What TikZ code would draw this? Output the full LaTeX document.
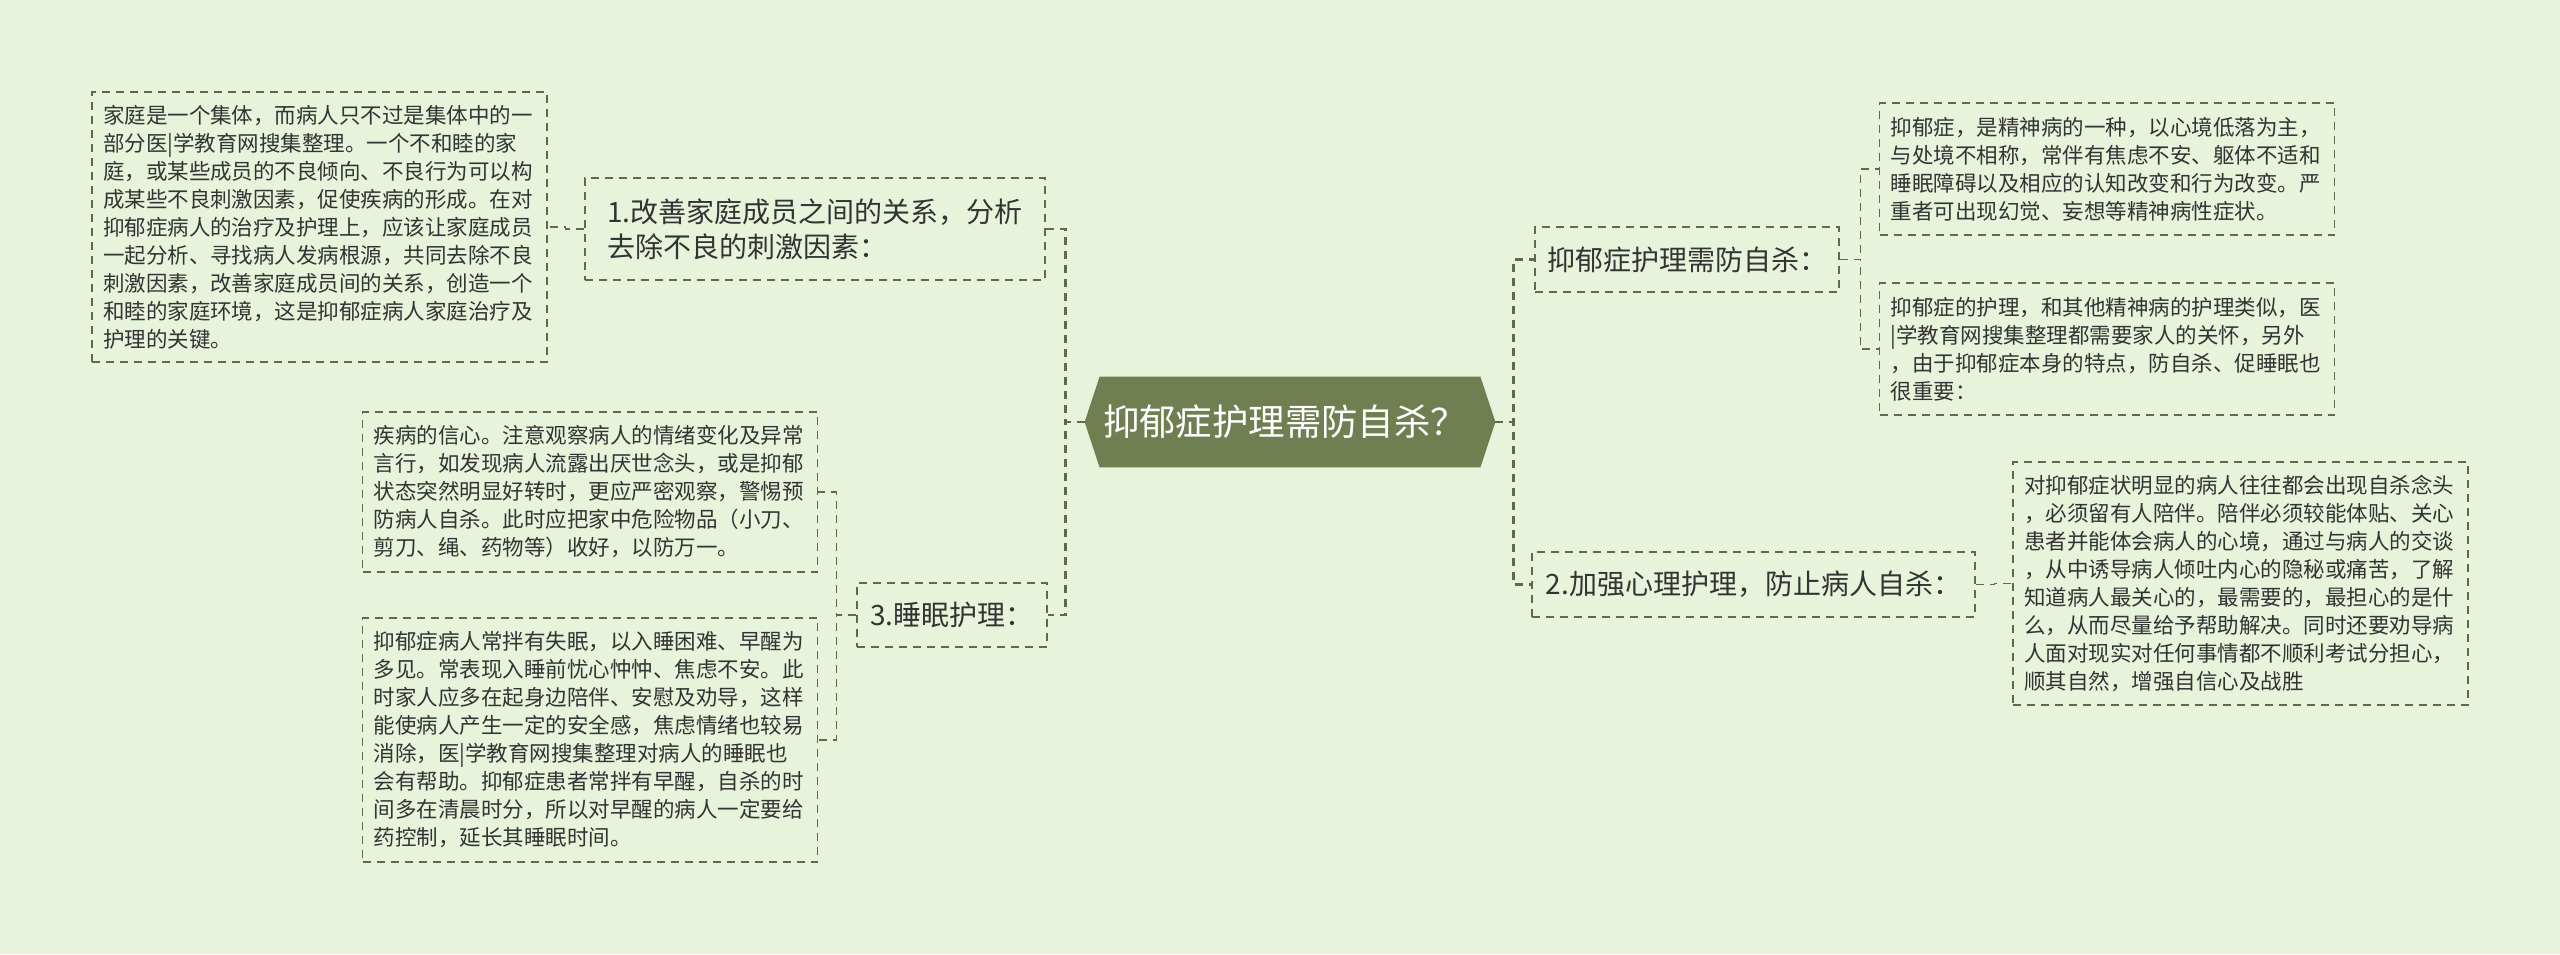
\documentclass[tikz,border=0pt]{standalone}
\usepackage{fontspec}
\setmainfont{Noto Sans CJK SC}
\usetikzlibrary{backgrounds}
\definecolor{pagegreen}{RGB}{231,244,219}
\definecolor{rootolive}{RGB}{111,127,82}
\definecolor{dashgreen}{RGB}{94,107,73}
\definecolor{inkgray}{RGB}{51,51,51}

\begin{document}
\begin{tikzpicture}[
			x=0.5pt, y=-0.5pt,
			rootbox/.style={rectangle, minimum width=205pt, minimum height=45pt, inner sep=0pt, text=white, font=\fontsize{18.2}{21}\selectfont},
			topicbox/.style={draw=dashgreen, line width=0.7pt, dash pattern=on 4pt off 3pt, rectangle, align=left, text=inkgray, inner sep=0pt, font=\fontsize{14}{17.5}\selectfont},
			notebox/.style={draw=dashgreen, line width=0.7pt, dash pattern=on 4pt off 3pt, rectangle, align=left, text=inkgray, text width=216.5pt, inner xsep=5.5pt, inner ysep=0pt, font=\fontsize{10.75}{14}\selectfont},
			link/.style={draw=dashgreen, line width=0.7pt, dash pattern=on 4pt off 3pt},
			trunk/.style={link, line width=1.3pt}
			]
			% Tema centrale
			\node[rootbox] (root) at (1290,422) {\hspace*{-5pt}抑郁症护理需防自杀？};
			
			% Ramo sinistro: famiglia
			\node[topicbox, minimum width=230pt, minimum height=51pt] (improve) at (815,229) {1.改善家庭成员之间的关系，分析\\去除不良的刺激因素：};
			\node[notebox, minimum height=135pt] (family) at (319.5,227) {
				家庭是一个集体，而病人只不过是集体中的一\\
				部分医|学教育网搜集整理。一个不和睦的家\\
				庭，或某些成员的不良倾向、不良行为可以构\\
				成某些不良刺激因素，促使疾病的形成。在对\\
				抑郁症病人的治疗及护理上，应该让家庭成员\\
				一起分析、寻找病人发病根源，共同去除不良\\
				刺激因素，改善家庭成员间的关系，创造一个\\
				和睦的家庭环境，这是抑郁症病人家庭治疗及\\
				护理的关键。
			};
			
			% Ramo sinistro: sonno
			\node[topicbox, minimum width=95pt, minimum height=32pt] (sleep) at (952,615) {3.睡眠护理：};
			\node[notebox, minimum height=80pt] (watch) at (590,492) {
				疾病的信心。注意观察病人的情绪变化及异常\\
				言行，如发现病人流露出厌世念头，或是抑郁\\
				状态突然明显好转时，更应严密观察，警惕预\\
				防病人自杀。此时应把家中危险物品（小刀、\\
				剪刀、绳、药物等）收好，以防万一。
			};
			\node[notebox, minimum height=122pt] (insomnia) at (590,740) {
				抑郁症病人常拌有失眠，以入睡困难、早醒为\\
				多见。常表现入睡前忧心忡忡、焦虑不安。此\\
				时家人应多在起身边陪伴、安慰及劝导，这样\\
				能使病人产生一定的安全感，焦虑情绪也较易\\
				消除，医|学教育网搜集整理对病人的睡眠也\\
				会有帮助。抑郁症患者常拌有早醒，自杀的时\\
				间多在清晨时分，所以对早醒的病人一定要给\\
				药控制，延长其睡眠时间。
			};
			
			% Ramo destro: prevenzione
			\node[topicbox, minimum width=152pt, minimum height=32.5pt] (prevent) at (1687,259.5) {抑郁症护理需防自杀：};
			\node[notebox, minimum height=66pt] (define) at (2107,169) {
				抑郁症，是精神病的一种，以心境低落为主，\\
				与处境不相称，常伴有焦虑不安、躯体不适和\\
				睡眠障碍以及相应的认知改变和行为改变。严\\
				重者可出现幻觉、妄想等精神病性症状。
			};
			\node[notebox, minimum height=66pt] (care) at (2107,349) {
				抑郁症的护理，和其他精神病的护理类似，医\\
				|学教育网搜集整理都需要家人的关怀，另外\\
				，由于抑郁症本身的特点，防自杀、促睡眠也\\
				很重要：
			};
			
			% Ramo destro: psicologia
			\node[topicbox, minimum width=221.5pt, minimum height=32.5pt] (mind) at (1753.5,584.5) {2.加强心理护理，防止病人自杀：};
			\node[notebox, minimum height=121.5pt] (company) at (2240.5,583.5) {
				对抑郁症状明显的病人往往都会出现自杀念头\\
				，必须留有人陪伴。陪伴必须较能体贴、关心\\
				患者并能体会病人的心境，通过与病人的交谈\\
				，从中诱导病人倾吐内心的隐秘或痛苦，了解\\
				知道病人最关心的，最需要的，最担心的是什\\
				么，从而尽量给予帮助解决。同时还要劝导病\\
				人面对现实对任何事情都不顺利考试分担心，\\
				顺其自然，增强自信心及战胜
			};
			
			% Sfondo ed esagono
			\begin{pgfonlayer}{background}
				\fill[pagegreen] (0,0) rectangle (2560,954);
				\fill[rootolive] (root.west) -- ([xshift=7.5pt]root.north west) -- ([xshift=-7.5pt]root.north east) -- (root.east) -- ([xshift=-7.5pt]root.south east) -- ([xshift=7.5pt]root.south west) -- cycle;
			\end{pgfonlayer}
			
			% Collegamenti
			\draw[trunk] (root.west) -- ++(-19,0) |- (improve.east);
			\draw[trunk] (root.west) -- ++(-19,0) |- (sleep.east);
			\draw[trunk] (root.east) -- ++(18,0) |- (prevent.west);
			\draw[trunk] (root.east) -- ++(18,0) |- (mind.west);
			\draw[link] (improve.west) -- ++(-19,0) |- (family.east);
			\draw[link] (sleep.west) -- ++(-20,0) |- (watch.east);
			\draw[link] (sleep.west) -- ++(-20,0) |- (insomnia.east);
			\draw[link] (prevent.east) -- ++(21,0) |- (define.west);
			\draw[link] (prevent.east) -- ++(21,0) |- (care.west);
			\draw[link] (mind.east) -- ++(19,0) |- (company.west);
			
		\end{tikzpicture}
\end{document}
